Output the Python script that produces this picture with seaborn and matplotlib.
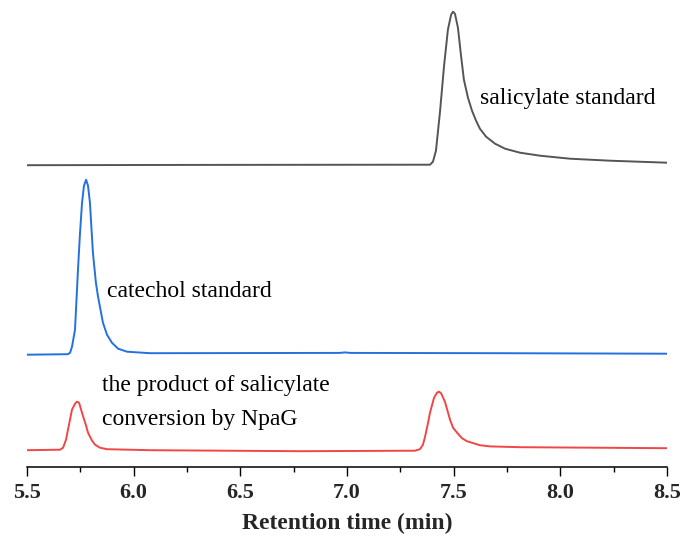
import matplotlib
matplotlib.use("Agg")
import matplotlib.pyplot as plt
import seaborn as sns
import pandas as pd
from matplotlib.ticker import MultipleLocator

# ---- data (time in min, signal in a.u.) ----
sal_time = [5.500, 6.311, 7.389, 7.403, 7.417, 7.436, 7.455, 7.473, 7.488, 7.497,
            7.506, 7.520, 7.534, 7.548, 7.567, 7.586, 7.605, 7.623, 7.652, 7.694,
            7.741, 7.811, 7.905, 8.045, 8.233, 8.500]
sal_signal = [301.5, 301.8, 302, 305, 316, 355, 401, 437, 452, 455,
              453, 439, 412, 387, 369, 356, 346, 338, 330, 323,
              318, 314, 311, 308, 306, 304]

cat_time = [5.500, 5.692, 5.702, 5.711, 5.725, 5.739, 5.748, 5.758, 5.767, 5.777,
            5.786, 5.795, 5.809, 5.823, 5.833, 5.856, 5.875, 5.898, 5.927, 5.969,
            6.077, 6.967, 6.991, 7.014, 7.717, 8.500]
cat_signal = [112, 112.5, 114, 120, 137, 197, 232, 264, 281, 287,
              281, 264, 214, 184, 170, 144, 132, 124, 118, 115,
              113.5, 113.8, 114.3, 113.8, 113.5, 113]

prod_time = [5.500, 5.655, 5.669, 5.683, 5.692, 5.711, 5.725, 5.734, 5.744, 5.762,
             5.777, 5.786, 5.805, 5.819, 5.842, 5.875, 6.077, 6.780, 7.319, 7.342,
             7.356, 7.366, 7.380, 7.389, 7.408, 7.422, 7.431, 7.441, 7.459, 7.483,
             7.497, 7.516, 7.539, 7.562, 7.623, 7.670, 7.811, 8.500]
prod_signal = [16.5, 17, 19, 27, 37, 57, 63, 65, 64, 51,
               41, 34, 26, 22, 19, 17.5, 16.5, 15.5, 16, 17.5,
               22, 30, 44, 54, 69, 74, 75, 73.5, 65, 47,
               39, 34, 28.5, 25.5, 21.5, 20.3, 19.5, 18.5]

trace_names = ["salicylate standard", "catechol standard", "product"]
trace_colors = ["#555555", "#2470E0", "#F24646"]

x_ticks = [5.5, 6.0, 6.5, 7.0, 7.5, 8.0, 8.5]
x_label = "Retention time (min)"

# ---- build long table ----
frames = []
for name, t, s in zip(trace_names, [sal_time, cat_time, prod_time],
                      [sal_signal, cat_signal, prod_signal]):
    frames.append(pd.DataFrame({"time": t, "signal": s, "trace": name}))
df = pd.concat(frames, ignore_index=True)

sns.set_style("white")
plt.rcParams["font.family"] = ["Liberation Serif", "DejaVu Serif"]

fig = plt.figure(figsize=(6.84, 5.5), dpi=100)
ax = fig.add_axes([27 / 684, 1 - 466.7 / 550, 640 / 684, 466.7 / 550])

sns.lineplot(data=df, x="time", y="signal", hue="trace",
             palette=dict(zip(trace_names, trace_colors)),
             estimator=None, sort=False, linewidth=1.4, legend=False, ax=ax)

ax.set_xlim(5.5, 8.5)
ax.set_ylim(0, 466.7)
ax.set_xticks(x_ticks)
ax.set_xticklabels([f"{v:.1f}" for v in x_ticks], fontweight="bold", fontsize=16)
ax.xaxis.set_minor_locator(MultipleLocator(0.25))
ax.tick_params(axis="x", which="major", direction="out", length=6.5, width=1.0,
               color="black", pad=5, bottom=True)
ax.tick_params(axis="x", which="minor", direction="out", length=3.3, width=1.0,
               color="black", bottom=True)
ax.set_yticks([])
ax.set_ylabel("")
ax.set_xlabel(x_label, fontweight="bold", fontsize=17, labelpad=7)

for side in ["left", "right", "top"]:
    ax.spines[side].set_visible(False)
ax.spines["bottom"].set_linewidth(1.1)
ax.spines["bottom"].set_color("black")
ax.patch.set_alpha(0)

txt_kw = dict(fontsize=17, color="black", va="center", ha="left")
ax.text(7.623, 368, "salicylate standard", **txt_kw)
ax.text(5.875, 175, "catechol standard", **txt_kw)
ax.text(5.852, 81, "the product of salicylate", **txt_kw)
ax.text(5.852, 47, "conversion by NpaG", **txt_kw)

fig.savefig("out.png", dpi=100)
